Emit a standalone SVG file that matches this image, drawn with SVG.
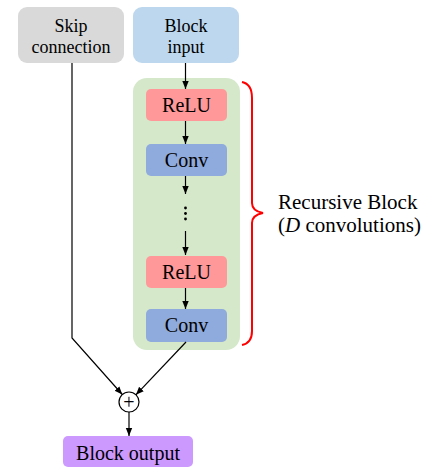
<svg xmlns="http://www.w3.org/2000/svg" width="432" height="468" viewBox="0 0 432 468">
<style>
text{font-family:"Liberation Serif","Times New Roman",serif;fill:#000;text-anchor:middle}
.t18{font-size:18px}
.t20{font-size:20px}
.t21{font-size:21px}
.e{fill:none;stroke:#000;stroke-width:1.2}
</style>
<defs>
<marker id="ah" markerUnits="userSpaceOnUse" markerWidth="8" markerHeight="8" viewBox="0 0 8 8" refX="8" refY="4" orient="auto">
<path d="M0,0.8 L8,4 L0,7.2 Z" fill="#000"/>
</marker>
</defs>
<rect width="432" height="468" fill="#fff"/>
<g id="recursive-block">
<rect x="133" y="78" width="107" height="272" rx="14" fill="#d5e8ca"/>
</g>
<g id="skip"><rect x="18" y="7" width="106" height="56" rx="9" fill="#d9d9d9"/><text class="t18" x="71" y="32">Skip</text><text class="t18" x="71" y="53">connection</text></g>
<g id="input"><rect x="133" y="7" width="106" height="56" rx="9" fill="#bdd7ee"/><text class="t18" x="186" y="32">Block</text><text class="t18" x="186" y="53">input</text></g>
<g id="relu1"><rect x="146" y="89" width="81" height="32" rx="5" fill="#ff9999"/><text class="t20" x="186.5" y="112">ReLU</text></g>
<g id="conv1"><rect x="146" y="144" width="81" height="32" rx="5" fill="#8faadc"/><text class="t20" x="186.5" y="167">Conv</text></g>
<g id="dots"><circle cx="185.5" cy="208" r="1.4"/><circle cx="185.5" cy="213.5" r="1.4"/><circle cx="185.5" cy="219" r="1.4"/></g>
<g id="relu2"><rect x="146" y="256" width="81" height="32" rx="5" fill="#ff9999"/><text class="t20" x="186.5" y="279">ReLU</text></g>
<g id="conv2"><rect x="146" y="309" width="81" height="33" rx="5" fill="#8faadc"/><text class="t20" x="186.5" y="332">Conv</text></g>
<g id="sum"><circle cx="129" cy="402" r="10" fill="#fff" stroke="#000" stroke-width="1.2"/><text class="t20" x="129" y="408.5">+</text></g>
<g id="output"><rect x="63" y="436" width="130" height="31" rx="5" fill="#cc99ff"/><text class="t20" x="128" y="460">Block output</text></g>
<g id="brace"><path d="M242,82 Q252,84 252,98 L252,203 Q252,211 263,213 Q252,215 252,223 L252,331 Q252,343 242,345" fill="none" stroke="#ff0000" stroke-width="2"/>
<text class="t21" x="278" y="209" style="text-anchor:start">Recursive Block</text>
<text class="t21" x="278" y="232" style="text-anchor:start">(<tspan font-style="italic">D</tspan> convolutions)</text></g>
<g id="connectors">
<line class="e" x1="185.5" y1="63" x2="185.5" y2="89" marker-end="url(#ah)"/>
<line class="e" x1="185.5" y1="121" x2="185.5" y2="144" marker-end="url(#ah)"/>
<line class="e" x1="185.5" y1="176" x2="185.5" y2="194" marker-end="url(#ah)"/>
<line class="e" x1="185.5" y1="231" x2="185.5" y2="255" marker-end="url(#ah)"/>
<line class="e" x1="185.5" y1="288" x2="185.5" y2="309" marker-end="url(#ah)"/>
<polyline class="e" points="72,63 72,338 122.3,394.5" marker-end="url(#ah)"/>
<line class="e" x1="186" y1="342" x2="135.9" y2="394.8" marker-end="url(#ah)"/>
<line class="e" x1="129" y1="412" x2="129" y2="436" marker-end="url(#ah)"/>
</g>
</svg>
